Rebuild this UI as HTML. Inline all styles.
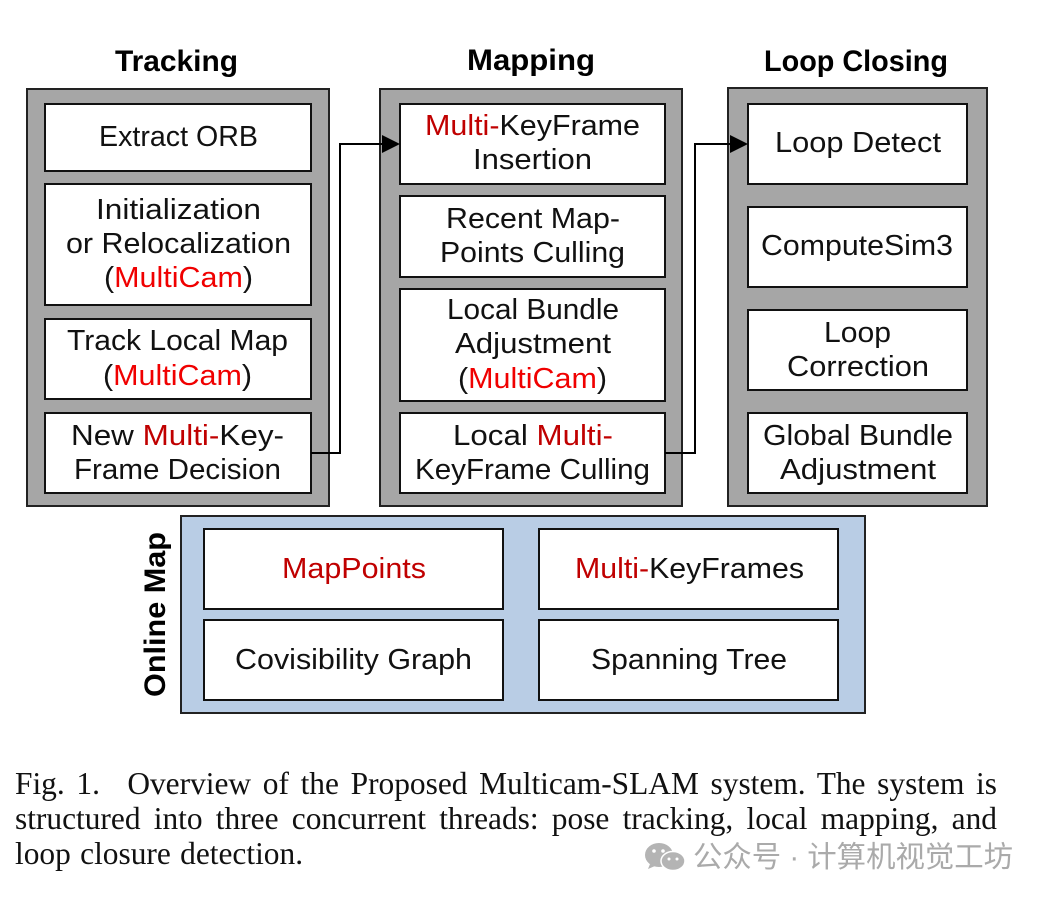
<!DOCTYPE html>
<html><head><meta charset="utf-8">
<style>
html,body{margin:0;padding:0;background:#fff;}
body{width:1046px;height:899px;position:relative;overflow:hidden;}
svg{position:absolute;left:0;top:0;}
text{font-family:"Liberation Sans",sans-serif;font-size:28.6px;fill:#111;text-anchor:start;}
.h{font-family:"Liberation Sans",sans-serif;font-weight:bold;font-size:30px;fill:#000;}
.b{fill:#fff;stroke:#111;stroke-width:2;}
.g{fill:#a6a6a6;stroke:#222;stroke-width:2;}
.r{fill:#c00000;}
.f{fill:#f00000;}
.w{font-family:"Liberation Sans","Noto Sans CJK SC",sans-serif;font-size:29.4px;fill:#aaa;}
.c{position:absolute;left:15px;width:982px;font-family:"Liberation Serif",serif;font-size:31.4px;line-height:36px;color:#111;white-space:nowrap;text-align:justify;text-align-last:justify;}
</style></head><body>
<svg width="1046" height="899" viewBox="0 0 1046 899" xmlns="http://www.w3.org/2000/svg">
<text class="h" x="115" y="71" textLength="123" lengthAdjust="spacingAndGlyphs">Tracking</text>
<text class="h" x="467" y="70" textLength="128" lengthAdjust="spacingAndGlyphs">Mapping</text>
<text class="h" x="764" y="71" textLength="184" lengthAdjust="spacingAndGlyphs">Loop Closing</text>

<rect class="g" x="27" y="89" width="302" height="417"/>
<rect class="g" x="380" y="89" width="302" height="417"/>
<rect class="g" x="728" y="88" width="259" height="418"/>

<rect class="b" x="45" y="104" width="266" height="67"/>
<rect class="b" x="45" y="184" width="266" height="121"/>
<rect class="b" x="45" y="319" width="266" height="80"/>
<rect class="b" x="45" y="413" width="266" height="80"/>

<rect class="b" x="400" y="104" width="265" height="80"/>
<rect class="b" x="400" y="196" width="265" height="81"/>
<rect class="b" x="400" y="289" width="265" height="112"/>
<rect class="b" x="400" y="413" width="265" height="80"/>

<rect class="b" x="748" y="104" width="219" height="80"/>
<rect class="b" x="748" y="207" width="219" height="80"/>
<rect class="b" x="748" y="310" width="219" height="80"/>
<rect class="b" x="748" y="413" width="219" height="80"/>

<rect x="181" y="516" width="684" height="197" fill="#b9cde5" stroke="#222" stroke-width="2"/>
<rect class="b" x="204" y="529" width="299" height="80"/>
<rect class="b" x="539" y="529" width="299" height="80"/>
<rect class="b" x="204" y="620" width="299" height="80"/>
<rect class="b" x="539" y="620" width="299" height="80"/>

<path d="M311 453H340V144H386" fill="none" stroke="#000" stroke-width="2"/>
<path d="M400 144L382 135V153Z" fill="#000"/>
<path d="M665 453H695V144H734" fill="none" stroke="#000" stroke-width="2"/>
<path d="M748 144L730 135V153Z" fill="#000"/>

<text x="99" y="146" textLength="159" lengthAdjust="spacingAndGlyphs">Extract ORB</text>
<text x="96" y="219" textLength="165" lengthAdjust="spacingAndGlyphs">Initialization</text>
<text x="66" y="253" textLength="225" lengthAdjust="spacingAndGlyphs">or Relocalization</text>
<text x="104" y="287" textLength="149" lengthAdjust="spacingAndGlyphs">(<tspan class="f">MultiCam</tspan>)</text>
<text x="67" y="350" textLength="221" lengthAdjust="spacingAndGlyphs">Track Local Map</text>
<text x="103" y="385" textLength="149" lengthAdjust="spacingAndGlyphs">(<tspan class="f">MultiCam</tspan>)</text>
<text x="71" y="445" textLength="213" lengthAdjust="spacingAndGlyphs">New <tspan class="r">Multi-</tspan>Key-</text>
<text x="74" y="479" textLength="207" lengthAdjust="spacingAndGlyphs">Frame Decision</text>

<text x="425" y="135" textLength="215" lengthAdjust="spacingAndGlyphs"><tspan class="r">Multi-</tspan>KeyFrame</text>
<text x="473" y="169" textLength="119" lengthAdjust="spacingAndGlyphs">Insertion</text>
<text x="446" y="228" textLength="174" lengthAdjust="spacingAndGlyphs">Recent Map-</text>
<text x="440" y="262" textLength="185" lengthAdjust="spacingAndGlyphs">Points Culling</text>
<text x="447" y="319" textLength="172" lengthAdjust="spacingAndGlyphs">Local Bundle</text>
<text x="455" y="353" textLength="156" lengthAdjust="spacingAndGlyphs">Adjustment</text>
<text x="458" y="388" textLength="149" lengthAdjust="spacingAndGlyphs">(<tspan class="f">MultiCam</tspan>)</text>
<text x="453" y="445" textLength="160" lengthAdjust="spacingAndGlyphs">Local <tspan class="r">Multi-</tspan></text>
<text x="415" y="479" textLength="235" lengthAdjust="spacingAndGlyphs">KeyFrame Culling</text>

<text x="775" y="152" textLength="166" lengthAdjust="spacingAndGlyphs">Loop Detect</text>
<text x="761" y="255" textLength="192" lengthAdjust="spacingAndGlyphs">ComputeSim3</text>
<text x="824" y="342" textLength="67" lengthAdjust="spacingAndGlyphs">Loop</text>
<text x="787" y="376" textLength="142" lengthAdjust="spacingAndGlyphs">Correction</text>
<text x="763" y="445" textLength="190" lengthAdjust="spacingAndGlyphs">Global Bundle</text>
<text x="780" y="479" textLength="156" lengthAdjust="spacingAndGlyphs">Adjustment</text>

<text x="282" y="578" class="r" textLength="144" lengthAdjust="spacingAndGlyphs">MapPoints</text>
<text x="575" y="578" textLength="229" lengthAdjust="spacingAndGlyphs"><tspan class="r">Multi-</tspan>KeyFrames</text>
<text x="235" y="669" textLength="237" lengthAdjust="spacingAndGlyphs">Covisibility Graph</text>
<text x="591" y="669" textLength="196" lengthAdjust="spacingAndGlyphs">Spanning Tree</text>

<text class="h" transform="translate(165 697) rotate(-90)" textLength="165" lengthAdjust="spacingAndGlyphs">Online Map</text>

<ellipse cx="659" cy="855" rx="14" ry="12" fill="#b4b4b4"/>
<path d="M650 864l-2 5 7-3z" fill="#b4b4b4"/>
<ellipse cx="673" cy="861" rx="12" ry="9.5" fill="#b4b4b4" stroke="#fff" stroke-width="1.5"/>
<circle cx="654" cy="851" r="1.8" fill="#fff"/>
<circle cx="663" cy="851" r="1.8" fill="#fff"/>
<circle cx="669" cy="859" r="1.5" fill="#fff"/>
<circle cx="677" cy="859" r="1.5" fill="#fff"/>
<text class="w" x="693" y="867">公众号 · 计算机视觉工坊</text>
</svg>
<div class="c" style="top:766px">Fig. 1. <span style="letter-spacing:4px">&nbsp;</span>Overview of the Proposed Multicam-SLAM system. The system is</div>
<div class="c" style="top:801px">structured into three concurrent threads: pose tracking, local mapping, and</div>
<div class="c" style="top:836px;text-align:left;text-align-last:left;word-spacing:1.5px">loop closure detection.</div>
</body></html>
